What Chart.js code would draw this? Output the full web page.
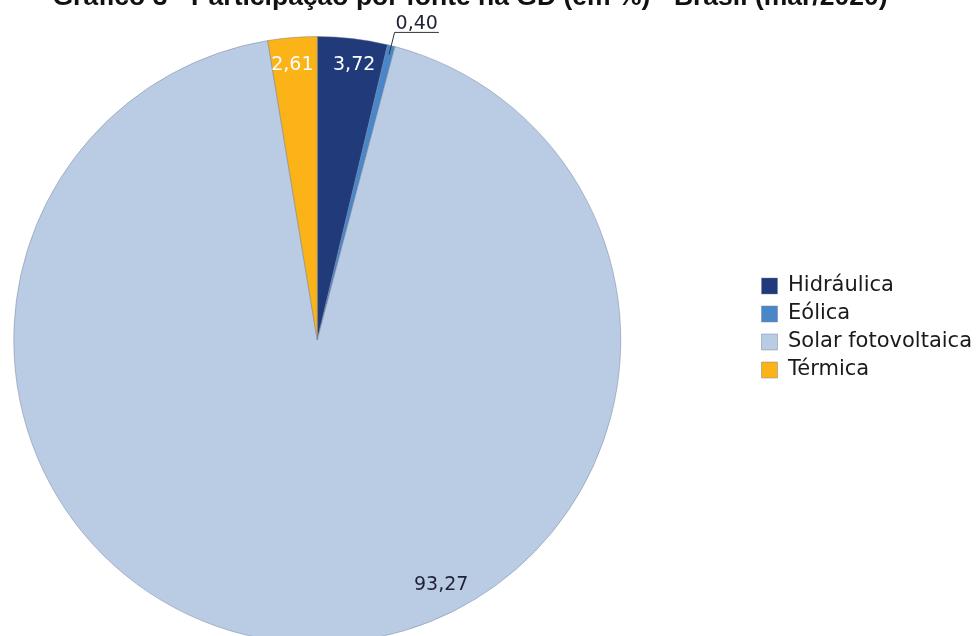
<!DOCTYPE html>
<html lang="pt-BR">
<head>
<meta charset="utf-8">
<title>Participação por fonte na GD</title>
<script src="https://cdn.jsdelivr.net/npm/chart.js@4.4.1/dist/chart.umd.min.js"></script>
<style>
  html, body { margin: 0; padding: 0; background: #ffffff; }
  #wrap { position: relative; width: 976px; height: 636px; overflow: hidden; }
  /* the drawing surface runs past the window so the pie and legend can be cropped like the original */
  #stage { position: absolute; left: -120px; top: 0; width: 1102px; height: 644px; }
</style>
</head>
<body>
<div id="wrap"><div id="stage"><canvas id="gdChart"></canvas></div></div>
<script>
const TITLE = "Gráfico 3 - Participação por fonte na GD (em %) - Brasil (mar/2020)";
const sources = ["Hidráulica", "Eólica", "Solar fotovoltaica", "Térmica"];
const shares = [3.72, 0.40, 93.27, 2.61];
const shareLabels = ["3,72", "0,40", "93,27", "2,61"];
const colors = ["#203a7a", "#4a87c9", "#b9cce4", "#fcb317"];

const STAGE_SHIFT = 120;

// where each value sits on its slice: t = fraction of the angle, f = fraction of the radius
const labelStyle = [
  { t: 0.57, f: 0.915, color: "#ffffff" },
  { t: 0.5, f: 1.045, color: "#1e2233", leader: true },
  { t: 0.412, f: 0.905, color: "#1e2233" },
  { t: 0.45, f: 0.91, color: "#ffffff" }
];

function arcPoint(arc, t, f) {
  const { x, y, startAngle, endAngle, outerRadius } = arc.getProps(
    ["x", "y", "startAngle", "endAngle", "outerRadius"],
    true
  );
  const a = startAngle + (endAngle - startAngle) * t;
  return { x: x + Math.cos(a) * outerRadius * f, y: y + Math.sin(a) * outerRadius * f };
}

const pageTitle = {
  id: "pageTitle",
  afterDraw(chart) {
    const { ctx } = chart;
    ctx.save();
    ctx.font = "bold 26.5px 'Liberation Sans', Arial, sans-serif";
    ctx.fillStyle = "#111111";
    ctx.textAlign = "center";
    ctx.textBaseline = "alphabetic";
    ctx.fillText(TITLE, 470 + STAGE_SHIFT, 5);
    ctx.restore();
  }
};

const sliceLabels = {
  id: "sliceLabels",
  afterDatasetsDraw(chart) {
    const { ctx } = chart;
    const arcs = chart.getDatasetMeta(0).data;
    ctx.save();
    ctx.font = "19px 'DejaVu Sans', sans-serif";
    ctx.textAlign = "center";
    arcs.forEach((arc, i) => {
      const style = labelStyle[i];
      const p = arcPoint(arc, style.t, style.f);
      ctx.fillStyle = style.color;
      if (style.leader) {
        const edge = arcPoint(arc, style.t, 0.97);
        const width = ctx.measureText(shareLabels[i]).width + 2;
        ctx.strokeStyle = "#333333";
        ctx.lineWidth = 1;
        ctx.beginPath();
        ctx.moveTo(edge.x, edge.y);
        ctx.lineTo(p.x, p.y);
        ctx.lineTo(p.x + width, p.y);
        ctx.stroke();
        ctx.textBaseline = "alphabetic";
        ctx.fillText(shareLabels[i], p.x + width / 2, p.y - 3);
      } else {
        ctx.textBaseline = "middle";
        ctx.fillText(shareLabels[i], p.x, p.y);
      }
    });
    ctx.restore();
  }
};

new Chart(document.getElementById("gdChart"), {
  type: "pie",
  data: {
    labels: sources,
    datasets: [
      {
        data: shares,
        backgroundColor: colors,
        borderColor: "rgba(110, 125, 150, 0.45)",
        borderWidth: 1
      }
    ]
  },
  options: {
    responsive: true,
    maintainAspectRatio: false,
    animation: false,
    layout: { padding: { top: 12, bottom: 0, left: 0, right: 0 } },
    plugins: {
      // empty subtitle only reserves the strip under the title
      subtitle: { display: true, text: "", padding: 0, font: { size: 20 } },
      title: { display: false },
      tooltip: { enabled: false },
      legend: {
        position: "right",
        align: "center",
        labels: {
          boxWidth: 16,
          boxHeight: 16,
          padding: 7,
          color: "#1a1a1a",
          font: { family: "'DejaVu Sans', sans-serif", size: 21 }
        }
      }
    }
  },
  plugins: [sliceLabels, pageTitle]
});
</script>
</body>
</html>
